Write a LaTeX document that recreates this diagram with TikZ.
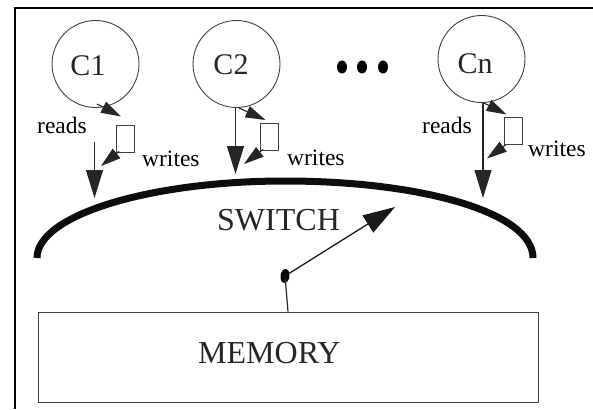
\documentclass[tikz,border=0pt]{standalone}
\usepackage{fontspec}
\setmainfont{Liberation Serif}
\usetikzlibrary{arrows.meta,shapes.geometric}
\tikzset{
  proc/.style={circle, draw=black!75, line width=0.9pt, minimum size=87pt, inner sep=0pt},
  buf/.style={rectangle, draw=black!75, line width=0.9pt, minimum width=18pt, minimum height=27pt, inner sep=0pt},
  clabel/.style={anchor=base, font=\fontsize{30}{32}\selectfont, inner sep=0pt, text=black!85},
  small/.style={anchor=base west, font=\fontsize{23.5}{26}\selectfont, inner sep=0pt},
  big/.style={anchor=base west, font=\fontsize{32}{34}\selectfont, inner sep=0pt, text=black!85},
  readarrow/.style={line width=1.1pt, draw=black!85, -{Triangle[length=28pt,width=17pt]}},
  writearrow/.style={line width=1.1pt, draw=black!85, -{Triangle[length=20pt,width=12pt]}},
  memarrow/.style={line width=1.3pt, draw=black!90, -{Triangle[length=32pt,width=20pt]}},
  switchline/.style={line width=7pt, line cap=butt, draw=black!95},
  frame/.style={line width=2.3pt, draw=black},
  membox/.style={rectangle, draw=black!75, line width=1pt, minimum width=500pt, minimum height=90pt, inner sep=0pt},
  pivot/.style={ellipse, fill=black, inner sep=0pt},
  bigdot/.style={ellipse, fill=black, minimum width=10pt, minimum height=13pt, inner sep=0pt}
}
\begin{document}
\begin{tikzpicture}[x=1pt,y=1pt]
\useasboundingbox (0,0) rectangle (593,-409);
\fill[white] (0,0) rectangle (593,-409);
% frame
\draw[frame] (15,-409) -- (15,-8) -- (593,-8);

% processors
\node[proc] (c1) at (95.5,-64) {};
\node[proc] (c2) at (236.5,-64) {};
\node[proc] (cn) at (481.5,-59) {};
\node[clabel] (c1t) at (88,-76) {C1};
\node[clabel] (c2t) at (231,-75) {C2};
\node[clabel] (cnt) at (475,-74) {Cn};

% dots
\node[bigdot] (d1) at (342,-67) {};
\node[bigdot] (d2) at (362,-67) {};
\node[bigdot] (d3) at (383,-67) {};

% buffers
\node[buf] (b1) at (125.5,-138.5) {};
\node[buf] (b2) at (269.5,-136.5) {};
\node[buf] (bn) at (513,-131) {};

% labels
\node[small] (r1) at (37,-133) {reads};
\node[small] (w1) at (142,-166) {writes};
\node[small] (w2) at (287,-165) {writes};
\node[small] (rn) at (422,-133) {reads};
\node[small] (wn) at (528,-156) {writes};

% switch
\coordinate (swl) at (37,-258);
\coordinate (swt) at (285,-181);
\coordinate (swr) at (533,-258);
\draw[switchline] (swl) .. controls (37,-215) and (150,-181) .. (swt)
                        .. controls (420,-181) and (533,-212) .. (swr);
\node[big] (sw) at (217,-230) {SWITCH};

% read arrows
\coordinate (r1s) at (94.5,-142);
\coordinate (r1e) at (94.5,-198);
\draw[readarrow] (r1s) -- (r1e);
\coordinate (r2e) at (235.5,-174);
\draw[readarrow] (c2.south -| r2e) -- (r2e);
\coordinate (rne) at (483,-198);
\draw[readarrow] (cn.south -| rne) -- (rne);

% write arrows (processor -> buffer)
\coordinate (i1s) at (97,-104);
\coordinate (i1e) at (121,-116.5);
\draw[writearrow] (i1s) -- (i1e);
\coordinate (i2s) at (239,-108);
\coordinate (i2e) at (265.5,-120);
\draw[writearrow] (i2s) -- (i2e);
\coordinate (ins) at (484,-103);
\coordinate (ine) at (506.5,-114.5);
\draw[writearrow] (ins) -- (ine);

% buffer -> out arrows
\coordinate (o1e) at (101,-166);
\draw[writearrow] (b1.south west) ++(3,1) -- (o1e);
\coordinate (o2e) at (244,-164);
\draw[writearrow] (b2.south west) ++(3,1) -- (o2e);
\coordinate (one) at (487,-158.5);
\draw[writearrow] (bn.south west) ++(2,0) -- (one);

% memory
\node[membox] (mem) at (288,-357) {};
\node[big] (memt) at (198,-363) {MEMORY};
\node[pivot, minimum width=9pt, minimum height=14pt, rotate=-8] (pd) at (285,-276) {};
\draw[line width=1.2pt, draw=black!85] (pd.center) -- (mem.north -| 288,0);
\coordinate (mae) at (395,-207);
\draw[memarrow] (pd.center) -- (mae);
\end{tikzpicture}
\end{document}
